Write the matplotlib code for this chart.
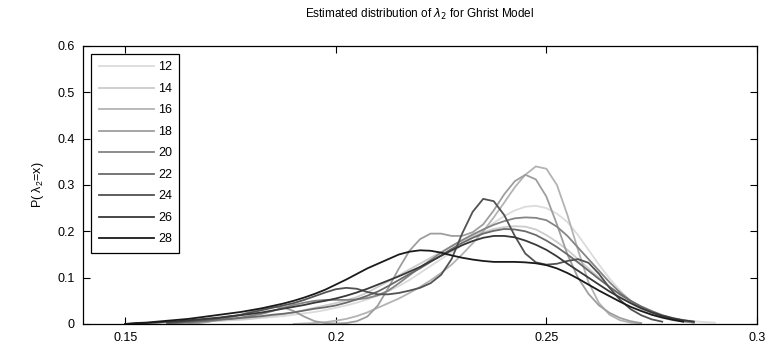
import numpy as np
import matplotlib
matplotlib.use('Agg')
import matplotlib.pyplot as plt

plt.rcParams['font.family'] = ['Liberation Sans', 'DejaVu Sans']

# shared x grid (nan = curve not drawn there)
x_start = 0.15
x_step = 0.0025
n_pts = 57
x = x_start + x_step * np.arange(n_pts)
nan = np.nan

sizes = ['12', '14', '16', '18', '20', '22', '24', '26', '28']
grays = ['0.86', '0.80', '0.70', '0.62', '0.52', '0.42', '0.32', '0.22', '0.10']

p12 = [nan, nan, 0.000, 0.001, 0.002, 0.003, 0.004, 0.005, 0.006, 0.007,
       0.008, 0.009, 0.011, 0.013, 0.015, 0.017, 0.020, 0.023, 0.026, 0.030,
       0.035, 0.040, 0.046, 0.053, 0.061, 0.071, 0.082, 0.095, 0.110, 0.125,
       0.140, 0.155, 0.170, 0.186, 0.202, 0.218, 0.233, 0.245, 0.253, 0.255,
       0.250, 0.238, 0.220, 0.192, 0.160, 0.128, 0.098, 0.072, 0.050, 0.035,
       0.024, 0.017, 0.012, 0.009, 0.006, 0.004, 0.003]
p14 = [nan, nan, nan, nan, 0.000, 0.002, 0.003, 0.004, 0.006, 0.007,
       0.009, 0.010, 0.012, 0.015, 0.018, 0.021, 0.025, 0.030, 0.035, 0.040,
       0.045, 0.051, 0.058, 0.068, 0.080, 0.092, 0.105, 0.118, 0.130, 0.143,
       0.155, 0.168, 0.180, 0.190, 0.198, 0.205, 0.209, 0.211, 0.210, 0.204,
       0.192, 0.177, 0.160, 0.140, 0.120, 0.100, 0.080, 0.062, 0.045, 0.032,
       0.020, 0.013, 0.008, 0.005, 0.003, nan, nan]
p16 = [nan, nan, nan, nan, nan, nan, nan, nan, nan, nan,
       nan, nan, nan, nan, nan, nan, 0.000, 0.001, 0.002, 0.004,
       0.007, 0.011, 0.017, 0.025, 0.035, 0.045, 0.055, 0.067, 0.080, 0.094,
       0.110, 0.128, 0.150, 0.174, 0.200, 0.230, 0.262, 0.295, 0.322, 0.340,
       0.335, 0.300, 0.235, 0.160, 0.090, 0.045, 0.020, 0.008, 0.003, 0.001,
       nan, nan, nan, nan, nan, nan, nan]
p18 = [nan, nan, nan, nan, nan, nan, 0.000, 0.002, 0.005, 0.009,
       0.014, 0.020, 0.027, 0.033, 0.037, 0.036, 0.028, 0.016, 0.006, 0.002,
       0.001, 0.002, 0.006, 0.016, 0.040, 0.078, 0.120, 0.158, 0.183, 0.195,
       0.195, 0.190, 0.190, 0.198, 0.215, 0.245, 0.280, 0.308, 0.322, 0.312,
       0.275, 0.215, 0.150, 0.100, 0.065, 0.040, 0.024, 0.013, 0.006, 0.002,
       nan, nan, nan, nan, nan, nan, nan]
p20 = [nan, nan, nan, nan, 0.001, 0.002, 0.003, 0.005, 0.007, 0.009,
       0.011, 0.014, 0.018, 0.022, 0.028, 0.035, 0.041, 0.046, 0.050, 0.052,
       0.052, 0.052, 0.053, 0.056, 0.062, 0.072, 0.088, 0.105, 0.122, 0.138,
       0.154, 0.168, 0.181, 0.193, 0.204, 0.214, 0.222, 0.228, 0.230, 0.229,
       0.224, 0.210, 0.190, 0.165, 0.140, 0.115, 0.090, 0.068, 0.050, 0.036,
       0.025, 0.016, 0.010, 0.006, 0.003, nan, nan]
p22 = [nan, nan, nan, nan, 0.002, 0.003, 0.004, 0.006, 0.008, 0.010,
       0.011, 0.013, 0.015, 0.017, 0.020, 0.022, 0.025, 0.029, 0.033, 0.036,
       0.040, 0.046, 0.053, 0.061, 0.070, 0.082, 0.095, 0.108, 0.120, 0.134,
       0.148, 0.162, 0.175, 0.186, 0.195, 0.201, 0.205, 0.204, 0.200, 0.192,
       0.180, 0.166, 0.150, 0.133, 0.115, 0.097, 0.080, 0.064, 0.050, 0.038,
       0.028, 0.019, 0.013, 0.008, 0.005, nan, nan]
p24 = [nan, nan, nan, nan, 0.003, 0.004, 0.006, 0.008, 0.010, 0.013,
       0.016, 0.020, 0.025, 0.030, 0.035, 0.040, 0.045, 0.052, 0.060, 0.068,
       0.075, 0.078, 0.076, 0.069, 0.064, 0.064, 0.067, 0.072, 0.078, 0.088,
       0.106, 0.140, 0.195, 0.242, 0.270, 0.265, 0.235, 0.190, 0.152, 0.133,
       0.128, 0.130, 0.136, 0.140, 0.132, 0.108, 0.078, 0.052, 0.032, 0.019,
       0.010, 0.005, nan, nan, nan, nan, nan]
p26 = [0.000, 0.001, 0.002, 0.003, 0.005, 0.006, 0.008, 0.010, 0.012, 0.014,
       0.017, 0.019, 0.022, 0.025, 0.029, 0.033, 0.037, 0.041, 0.046, 0.050,
       0.055, 0.061, 0.068, 0.076, 0.085, 0.094, 0.103, 0.113, 0.123, 0.135,
       0.147, 0.159, 0.170, 0.179, 0.186, 0.190, 0.190, 0.187, 0.180, 0.171,
       0.160, 0.146, 0.130, 0.115, 0.100, 0.085, 0.070, 0.057, 0.045, 0.034,
       0.025, 0.018, 0.012, 0.008, 0.005, nan, nan]
p28 = [0.000, 0.002, 0.003, 0.005, 0.007, 0.009, 0.011, 0.014, 0.017, 0.020,
       0.023, 0.026, 0.030, 0.034, 0.039, 0.044, 0.050, 0.057, 0.065, 0.074,
       0.085, 0.096, 0.108, 0.120, 0.130, 0.140, 0.150, 0.156, 0.159, 0.158,
       0.154, 0.148, 0.143, 0.139, 0.136, 0.134, 0.134, 0.134, 0.133, 0.131,
       0.127, 0.120, 0.110, 0.098, 0.085, 0.072, 0.060, 0.048, 0.037, 0.028,
       0.020, 0.014, 0.009, 0.005, nan, nan, nan]

curves = [p12, p14, p16, p18, p20, p22, p24, p26, p28]

xticks = [0.15, 0.2, 0.25, 0.3]
xticklabels = ['0.15', '0.2', '0.25', '0.3']
yticks = [0, 0.1, 0.2, 0.3, 0.4, 0.5, 0.6]
yticklabels = ['0', '0.1', '0.2', '0.3', '0.4', '0.5', '0.6']

fig = plt.figure(figsize=(7.78, 3.48), dpi=100)
ax = fig.add_axes([0.1067, 0.069, 0.8663, 0.799])

for vals, name, g in zip(curves, sizes, grays):
    ax.plot(x, vals, color=g, linewidth=1.3, label=name)

ax.set_xlim(0.14, 0.30)
ax.set_ylim(0, 0.6)
ax.set_xticks(xticks)
ax.set_xticklabels(xticklabels)
ax.set_yticks(yticks)
ax.set_yticklabels(yticklabels)
ax.tick_params(direction='in', top=True, right=True, length=5, width=0.8,
               labelsize=9, pad=6)
for s in ax.spines.values():
    s.set_linewidth(0.9)

ax.set_title(r'Estimated distribution of $\lambda_2$ for Ghrist Model',
             fontsize=8.5, pad=20)
ax.set_ylabel(r'P( $\mathregular{\lambda_2}$=x)', fontsize=9, labelpad=8)

leg = ax.legend(loc='upper left', bbox_to_anchor=(0.012, 0.971),
                fontsize=9, handlelength=4.4, labelspacing=0.76,
                fancybox=False, edgecolor='black', framealpha=1,
                borderaxespad=0, borderpad=0.6, handletextpad=0.35)
leg.get_frame().set_linewidth(0.9)

fig.savefig('out.png', dpi=100)
